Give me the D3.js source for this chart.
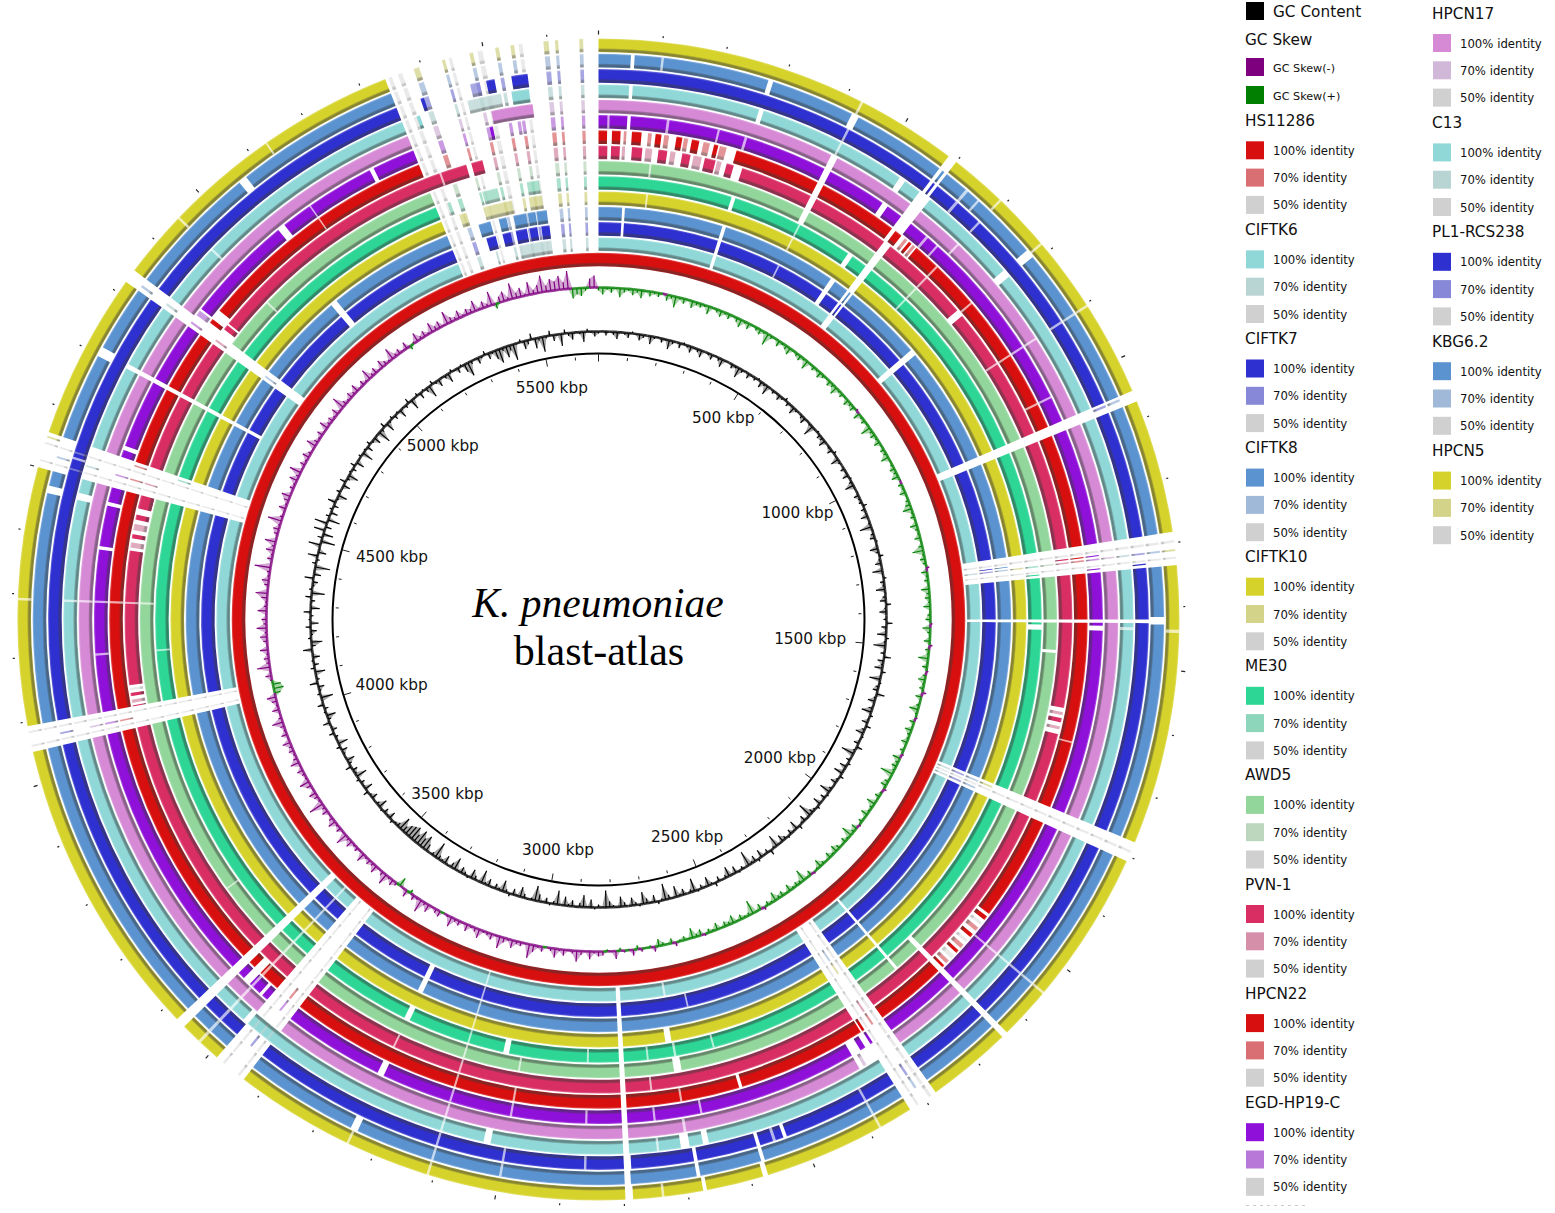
<!DOCTYPE html>
<meta charset="utf-8">
<script src="https://d3js.org/d3.v7.min.js"></script>
<style>
body { margin: 0; background: #fff; }
text { font-family: "DejaVu Sans"; fill: #111; }
</style>
<svg id="atlas" width="1555" height="1213"></svg>

<script>
const genomeLength = 5680
const kbpTicks = d3.range(500, 5501, 500)

// outermost ring first, reference genome (HS11286) last
const ringNames = ["HPCN5","KBG6.2","PL1-RCS238","C13","HPCN17","EGD-HP19-C","HPCN22","PVN-1","AWD5","ME30","CIFTK10","CIFTK8","CIFTK7","CIFTK6","HS11286"]
const ringColors = ["#d6d22c","#5a93d0","#2f30d0","#90d8d8","#d68ad6","#8f10d8","#d80f0f","#d82e63","#93d69b","#2dd695","#d6d22c","#5a93d0","#2f30d0","#90d8d8","#d80f0f"]
const ringColors70 = ["#d3d38a","#a0b9d9","#8888d8","#b8d5d3","#d2b8d8","#b878d8","#da6f73","#d58fa8","#bdd7bf","#8ed6bb","#d3d38a","#a0b9d9","#8888d8","#b8d5d3","#da6f73"]
const grey50 = "#d0d0d0"

const legendLeft = ["HS11286","CIFTK6","CIFTK7","CIFTK8","CIFTK10","ME30","AWD5","PVN-1","HPCN22","EGD-HP19-C"]
const legendRight = ["HPCN17","C13","PL1-RCS238","KBG6.2","HPCN5"]
const identityLabels = ["100% identity","70% identity","50% identity"]

const all = d3.range(14)

// regions with no BLAST hit: [from kbp, to kbp, rings]
const gaps = [
  [5340,5680,[0,1,2,3,4,5,6,8,9,10,11,12,13]],
  [5456,5680,[7]],[5370,5374,[7]],[5424,5434,[7]],
  [16,259,[6]],[17,24,[7]],[41,279,[7]],
  [52,58,[1,3,5,11,12]],[101,105,[1,8,10]],
  [16,20,[5]],[123,128,[5]],[216,220,[5]],[266,271,[5]],
  [276,284,[1,3,9,11,12,13]],
  [424,428,[0,2,3,9,10,12]],[420,432,[1,4,5,6,7,8]],
  [541,552,[3,5,9,11,12]],
  [585,600,all],[582,604,[3,4,5]],[582,640,[6]],
  [639,644,[1,2,5]],[664,668,[1,5]],[689,693,[0,2,4,6,7,8,9]],
  [777,791,[1,3,7,11,12,13]],[782,786,[0,6]],
  [902,906,[0,1,2,4,5,6,7]],[1005,1009,[5,6]],
  [1054,1072,all],
  [1283,1335,all],
  [1420,1426,[2,3,4,5,6,7,8,9,10,11,12,13]],[1416,1428,[1]],[1436,1441,[0]],
  [1430,1441,[9]],[1431,1440,[5]],[1433,1438,[3]],[1480,1486,[8]],
  [1590,1641,[7]],[1648,1651,[6]],
  [1776,1808,all],
  [2004,2130,[6]],
  [2049,2053,[0,1,2,3,4,5]],
  [2135,2145,[0,1,2,3,4,5,6,7,8]],
  [2198,2204,[8,9,10,11,12,13]],
  [2280,2328,all],[2328,2364,[4,5]],
  [2380,2384,[0,1,2]],
  [2524,2530,[2]],[2543,2548,[2]],[2570,2576,[1,2,6]],[2572,2580,[0]],[2600,2604,[9]],
  [2633,2637,[12]],[2652,2662,[3]],[2652,2656,[5]],
  [2670,2676,[0]],[2676,2682,[1,2]],[2685,2700,[3]],[2686,2691,[4]],[2684,2688,[6]],
  [2675,2690,[8]],[2680,2685,[9,13]],[2685,2698,[10]],
  [2737,2741,[0,3,5,7,9]],
  [2788,2798,all],[2786,2798,[0,2]],
  [2860,2864,[2,5,9]],[2996,3000,[1,2,5,6,8]],[3024,3036,[3,9]],
  [3108,3112,all],
  [3238,3250,[1,5,9,11,12]],[3242,3246,[0,7]],
  [3434,3488,[0,1,2,4,5,6,7,8,9,10,11,12,13]],[3486,3496,[3]],
  [3522,3527,all],
  [3500,3506,[5]],[3530,3545,[5,6]],
  [3558,3574,all],
  [3692,3695,[8]],
  [4052,4093,all],
  [4095,4134,[7]],
  [4195,4199,[5,9]],[4290,4294,[0,3,4,5,6,7,8]],
  [4386,4392,[5]],[4392,4474,[7]],
  [4464,4476,[1,3]],[4466,4473,[5]],
  [4500,4557,[0,1,3,4,5,6,7,8,9,10,11,12,13]],[4528,4532,[2]],
  [4570,4578,[5]],
  [4702,4710,[3,4,5,6,7,8,9,10,11,12]],[4698,4714,[1]],
  [4821,4843,all],[4843,4878,[6]],[4843,4870,[7]],[4843,4860,[5]],
  [4948,4952,[0,3,8]],
  [5043,5058,[11,12]],[5058,5072,[1,5]],
  [5128,5131,[5,6,0]],[5254,5262,[5]]
]

// weak or short hits left inside those regions: [from, to, rings, identity]
const fragments = [
  // top gap, stripes seen in most strains
  [5650,5656,all,70],[5612,5617,all,70],[5594,5602,all,70],
  [5542,5548,all,70],[5555,5561,all,50],[5518,5524,all,70],
  [5477,5483,all,70],[5490,5498,all,50],
  [5433,5438,[0,1,2,3,4,5,6,8,9,10,11,12,13],70],[5444,5449,[0,1,2,3,4,5,6,8,9,10,11,12,13],50],
  [5387,5396,[0,1,2,3,4,5,6,8,9,10,11,12,13],70],
  [5361,5368,[0,1,2,3,4,5,6,8,9,10,11,12,13],50],[5345,5351,[0,1,2,3,4,5,6,8,9,10,11,12,13],50],
  // top gap, stronger blocks
  [5536,5563,[2],100],[5494,5508,[2],100],[5467,5483,[2],70],[5382,5388,[2],100],
  [5532,5562,[3],100],[5456,5514,[3],70],[5366,5372,[3],100],
  [5492,5565,[4],100],[5483,5489,[5],100],[5534,5540,[5],70],
  [5533,5558,[9],70],[5440,5472,[9],70],[5365,5372,[9],70],
  [5532,5560,[10],70],[5438,5495,[10],70],[5380,5392,[10],70],
  [5413,5440,[11],100],[5459,5476,[11],100],[5492,5520,[11],100],[5524,5541,[11],100],[5544,5566,[11],100],
  [5421,5443,[12],100],[5459,5478,[12],100],[5490,5516,[12],100],[5522,5540,[12],100],[5549,5568,[12],100],
  [5491,5568,[13],70],
  // HPCN22 and PVN-1 just after the origin
  [25,41,[6],100],[47,52,[6],70],[62,80,[6],100],[92,99,[6],70],[106,117,[6],100],[122,131,[6],70],
  [145,156,[6],100],[159,167,[6],70],[174,188,[6],100],[196,208,[6],70],[216,224,[6],100],[227,240,[6],70],
  [45,51,[7],70],[64,84,[7],100],[90,103,[7],70],[115,132,[7],100],[138,148,[7],70],
  [161,177,[7],100],[183,199,[7],70],[205,226,[7],100],[229,238,[7],70],[248,262,[7],100],
  // other stripes
  [590,604,[6],100],[612,618,[6],70],[622,628,[6],100],[631,637,[6],70],[591,595,[1,2,11,12],100],
  [1058,1062,[1,2],70],
  [1296,1300,all,50],[1310,1313,all,70],[1322,1325,all,50],[1304,1306,[5,6,7,11,12],100],[1328,1330,[2,5,9],100],
  [1598,1604,[7],70],[1610,1618,[7],100],[1626,1632,[7],70],
  [1782,1786,[10,11,12,13],70],[1790,1794,all,50],[1798,1802,[11,12,13],70],
  [2010,2018,[6],100],[2024,2030,[6],50],[2036,2044,[6],70],[2052,2059,[6],100],[2066,2072,[6],50],
  [2078,2086,[6],70],[2092,2098,[6],100],[2104,2112,[6],50],[2118,2125,[6],70],
  [2288,2293,all,50],[2300,2304,[1,2,6,7,10,11],70],[2312,2316,all,50],[2320,2325,[5,6],100],
  [2336,2346,[5],100],[2350,2356,[4],70],
  [3442,3446,all,50],[3456,3460,[2,3,5,6],70],[3472,3476,all,50],
  [4060,4063,all,50],[4070,4073,[2,4,5,6],70],[4082,4085,all,50],
  [4100,4106,[7],70],[4113,4119,[7],100],[4124,4129,[7],50],
  [4398,4408,[7],70],[4416,4424,[7],100],[4432,4444,[7],70],[4452,4462,[7],100],
  [4476,4498,[7],100],
  [4510,4513,all,50],[4522,4525,[1,3,5,6,7],70],[4538,4541,all,50],[4548,4551,[0,6,9],70],
  [4828,4832,[1,3,5,7,11],70],[4846,4856,[5],70],[4850,4858,[6],100],[4856,4866,[7],100]
]

// GC content, deviation from the mean, one value per 0.75 degree
const gcContent = [
  -2,1,-4,0,-3,-7,1,-2,-5,2,-1,-6,-3,0,-8,-2,1,-4,-1,-9,-3,0,-5,2,-2,-6,-1,-3,-7,0,
  -2,-5,1,-3,-8,-1,0,-4,-2,-10,-3,1,-5,-1,-3,2,-6,-2,-9,0,-3,-1,-5,-2,3,-4,-1,-7,-2,0,
  -3,-6,1,-2,-11,-1,2,-4,-3,-7,0,-2,-5,3,-1,-8,-2,0,-4,-1,-6,2,-3,-9,-1,1,-5,-2,-3,4,
  -4,-1,-7,0,-2,-12,1,-3,-5,2,-1,-8,-3,4,-2,-6,0,-10,-1,3,-4,-2,-9,1,-3,-6,5,-2,-7,0,
  -3,6,-5,-1,-9,3,-2,-12,1,-4,7,-6,-2,-8,4,-1,-11,2,-3,-5,8,-2,-7,1,-4,-10,3,-1,-6,5,
  -3,-8,2,-1,-5,6,-2,-13,0,-4,3,-7,-1,-9,4,-2,-6,1,-3,-11,2,-5,0,-8,3,-2,-4,-14,1,-6,
  -2,4,-9,-1,-5,2,-3,-7,1,-12,-2,5,-4,-1,-8,3,-6,-2,-15,0,-3,2,-7,-1,-10,-3,1,-5,4,-2,
  -9,-1,-4,2,-13,-3,0,-6,-2,-11,1,-4,-16,-2,3,-7,-1,-5,-12,2,-3,-8,0,-4,-10,1,-2,-6,-17,-1,
  -3,2,-8,-1,-12,-4,1,-6,-2,-9,0,-14,-3,2,-5,-1,-7,-15,-2,1,-4,-10,-1,-6,3,-3,-11,-2,-5,1,
  -7,-2,-13,0,-4,-9,2,-3,-6,-1,-12,-5,1,-8,-2,-4,-16,-3,0,-7,-14,-9,-15,-8,-14,-12,-10,-6,-13,-4,
  -2,3,-7,-1,-5,2,-9,-3,1,-6,-2,5,-8,-1,-4,3,-11,-2,-5,6,-3,-8,1,-2,-6,4,-10,-1,-3,5,
  -5,-1,7,-3,-9,2,-4,6,-1,-12,3,-2,-6,8,-3,-1,-10,4,-5,2,-7,-1,9,-4,-11,3,-2,-6,5,-8,
  2,-3,7,-9,1,-4,6,-13,3,-2,-5,9,-7,1,-15,4,-3,10,-8,-1,12,-14,5,-10,11,-6,13,-12,4,-7,
  3,-5,8,-2,-9,4,-1,-7,6,-3,-10,2,-4,5,-8,-1,3,-11,2,-6,4,-2,-7,1,-13,-3,5,-9,-2,3,
  -4,2,-8,1,-3,5,-10,-1,3,-6,2,-4,-12,4,-2,-7,1,-3,-9,3,-1,-5,2,-8,-14,-3,1,-6,-2,4,
  -6,-2,-9,-14,-3,-11,-5,-16,-1,3,-8,-4,6,-10,-3,-15,-2,5,-6,-1,-12,4,-3,-7,1,-2,-10,3,-1,-5
]

// GC skew, positive drawn green towards the centre, negative purple outwards
const gcSkew = [
  3,7,2,5,1,9,4,2,6,3,8,1,5,2,4,-1,6,3,11,2,5,1,7,3,4,2,8,1,3,6,
  2,5,1,4,8,2,6,1,3,5,2,12,3,1,6,2,4,7,1,3,5,2,9,1,4,2,6,3,1,5,
  3,8,2,4,1,6,3,5,-2,7,2,4,1,10,3,5,2,6,1,4,3,8,1,2,5,3,7,-1,4,2,
  6,1,3,5,9,2,4,1,7,3,2,6,1,4,11,2,5,3,-3,6,2,4,1,8,3,5,2,7,1,3,
  5,-2,8,3,1,6,-3,4,2,10,1,5,-2,3,7,2,4,-4,6,1,3,9,2,-2,5,1,7,3,2,6,
  1,4,-2,8,3,5,2,13,1,4,6,-3,2,5,1,9,3,2,7,1,4,-2,6,3,11,2,5,1,4,7,
  2,6,1,3,8,2,-2,5,1,12,3,4,2,7,1,5,3,9,2,4,-3,6,1,14,3,2,5,1,8,3,
  5,1,7,2,4,-2,6,3,10,1,4,2,-4,5,1,3,7,-5,2,1,-3,4,-6,1,-2,3,-8,-1,2,-4,
  -5,-2,-8,-1,-4,-11,-3,-1,-6,-2,-9,-3,1,-5,-2,-7,-14,-1,-4,-3,-8,-2,-5,-12,-1,-6,-3,-2,-9,-4,
  -2,-7,-1,-5,-3,-10,-2,1,-6,-4,-1,-8,-3,-13,-2,-5,4,-7,-1,9,-3,-6,-2,-11,-4,-1,-8,-3,-5,-2,
  -9,-1,-4,-2,-7,-3,-12,-1,-5,-2,-8,-4,-1,-6,-3,-15,-2,-4,-7,-1,-5,-10,-2,-3,-6,-1,-9,-4,-2,-5,
  -3,-8,-1,-6,-2,-4,-11,-3,-1,-7,-2,-5,-9,6,10,8,-2,-6,-1,-13,-3,-5,-2,-8,-1,-4,-7,-2,-10,-3,
  -5,-1,-9,-3,-2,-6,-12,-1,-4,-7,-2,-3,-16,-1,-5,-2,-8,-3,-11,-1,-4,-6,-2,-14,-3,-1,-7,-2,-5,-9,
  -1,-4,-2,-8,-3,-12,-1,-5,-2,-7,-3,-1,-10,-4,-2,-6,-1,-9,-3,-5,-2,-7,-1,-13,-4,-2,-6,-3,-8,-1,
  -5,-2,-11,-3,-6,-1,-8,-4,-2,-12,-3,-5,-1,-7,4,-2,-9,-3,-6,-2,-10,-4,-7,-1,-13,-5,-3,-8,-2,-6,
  -4,-11,-2,-7,-3,-14,5,-6,-10,-3,-16,-5,-9,-2,-13,-4,-8,-17,-6,-12,-9,-14,-7,-18,10,6,8,3,-9,-12
]

const svg = d3.select("#atlas")
const defs = svg.append("defs")

const cx = 598.5, cy = 619.5
const outerRadius = 581, ringStep = 15.3, ringWidth = 13.6
const ringOuter = i => outerRadius - i * ringStep
const ringInner = i => ringOuter(i) - ringWidth

const angle = d3.scaleLinear().domain([0, genomeLength]).range([0, 2 * Math.PI])

const chart = svg.append("g").attr("transform", `translate(${cx},${cy})`)

// ring shading: dark rim on the inner side, pale rim on the outer side
function addGradient(id, color, i) {
  const grad = defs.append("radialGradient")
    .attr("id", id).attr("gradientUnits", "userSpaceOnUse")
    .attr("cx", 0).attr("cy", 0).attr("r", ringOuter(i))
  const off = f => (ringInner(i) + f * ringWidth) / ringOuter(i)
  const dark = t => d3.interpolateRgb(color, "#3a3a3a")(t)
  const stops = [[0, dark(0.35)], [0.1, dark(0.55)], [0.2, dark(0.42)], [0.3, color], [0.88, color],
                 [1, d3.interpolateRgb(color, "#ffffff")(0.3)]]
  stops.forEach(s => grad.append("stop").attr("offset", off(s[0])).attr("stop-color", s[1]))
}

ringColors.forEach((c, i) => {
  addGradient("ring" + i + "_100", c, i)
  addGradient("ring" + i + "_70", ringColors70[i], i)
  addGradient("ring" + i + "_50", grey50, i)
})

// gaps of a few kbp show as a pale hairline, not as a clean cut
const isHair = g => g[1] - g[0] <= 5
const fragOpacity = {100: 1, 70: 0.75, 50: 0.45}

// what is left of a ring once its gaps are taken out
function coveredParts(i) {
  const own = gaps.filter(g => g[2].includes(i) && !isHair(g)).map(g => [g[0], g[1]]).sort((a, b) => a[0] - b[0])
  const parts = []
  let pos = 0
  own.forEach(g => {
    if (g[0] > pos) parts.push([pos, g[0]])
    pos = Math.max(pos, g[1])
  })
  if (pos < genomeLength) parts.push([pos, genomeLength])
  return parts
}

function arcFor(i) {
  return d3.arc()
    .innerRadius(ringInner(i)).outerRadius(ringOuter(i))
    .startAngle(d => angle(d[0])).endAngle(d => angle(d[1]))
}

ringNames.forEach((name, i) => {
  const g = chart.append("g").attr("class", "ring")
  g.selectAll("path.part")
    .data(coveredParts(i))
    .join("path")
      .attr("class", "part")
      .attr("d", arcFor(i))
      .attr("fill", `url(#ring${i}_100)`)
  g.selectAll("path.hair")
    .data(gaps.filter(d => d[2].includes(i) && isHair(d)))
    .join("path")
      .attr("class", "hair")
      .attr("d", arcFor(i))
      .attr("fill", "#fff")
      .attr("fill-opacity", 0.65)
  g.selectAll("path.frag")
    .data(fragments.filter(f => f[2].includes(i)))
    .join("path")
      .attr("class", "frag")
      .attr("d", arcFor(i))
      .attr("fill", d => `url(#ring${i}_${d[3]})`)
      .attr("fill-opacity", d => fragOpacity[d[3]])
})

// spikes from a band at the track's base line, with the area under them shaded
const binKbp = genomeLength / gcSkew.length

function drawTrack(values, base, r, colorOf, keep) {
  const bins = values.map((v, i) => ({
    pos: i * binKbp, v: v, next: values[(i + 1) % values.length]
  }))
  const g = chart.append("g")
  const shade = keep.map(k => {
    const pts = bins.map(d => ({pos: d.pos, v: k(d.v) ? d.v : 0}))
    pts.push({pos: genomeLength, v: k(values[0]) ? values[0] : 0})
    return {color: colorOf(k === keep[0] ? (keep.length > 1 ? -1 : 0) : 1), pts: pts}
  })
  g.selectAll("path.shade").data(shade).join("path")
    .attr("class", "shade")
    .attr("d", s => d3.areaRadial().angle(d => angle(d.pos)).innerRadius(base).outerRadius(d => r(d.v))(s.pts))
    .attr("fill", s => s.color)
    .attr("fill-opacity", 0.35)
  g.selectAll("path.band").data(bins).join("path")
    .attr("class", "band")
    .attr("d", d3.arc().innerRadius(base - 1.3).outerRadius(base + 1.3)
      .startAngle(d => angle(d.pos)).endAngle(d => angle(d.pos + binKbp)))
    .attr("fill", d => colorOf(d.v))
    .attr("fill-opacity", 0.8)
  g.selectAll("line.stem").data(bins).join("line")
    .attr("class", "stem")
    .attr("x1", d => d3.pointRadial(angle(d.pos), base)[0])
    .attr("y1", d => d3.pointRadial(angle(d.pos), base)[1])
    .attr("x2", d => d3.pointRadial(angle(d.pos), r(d.v))[0])
    .attr("y2", d => d3.pointRadial(angle(d.pos), r(d.v))[1])
    .attr("stroke", d => colorOf(d.v))
    .attr("stroke-width", 1.2)
}

// GC skew
const skewBase = 332
const skewR = d3.scaleLinear().domain([-20, 20]).range([skewBase + 20, skewBase - 20])
drawTrack(gcSkew, skewBase, skewR, v => v < 0 ? "#7f007f" : "#007f00", [v => v < 0, v => v > 0])

// GC content
const gcBase = 288
const gcR = d3.scaleLinear().domain([-20, 20]).range([gcBase - 20, gcBase + 20])
drawTrack(gcContent, gcBase, gcR, v => "#000", [v => v !== 0])

// backbone circle and ticks
chart.append("circle").attr("r", 266).attr("fill", "none").attr("stroke", "#000").attr("stroke-width", 2)

const allTicks = d3.range(0, genomeLength, 100)
function radial(sel, r0, r1) {
  sel.attr("x1", d => d3.pointRadial(angle(d), r0(d))[0])
     .attr("y1", d => d3.pointRadial(angle(d), r0(d))[1])
     .attr("x2", d => d3.pointRadial(angle(d), r1(d))[0])
     .attr("y2", d => d3.pointRadial(angle(d), r1(d))[1])
}
chart.append("g").selectAll("line").data(allTicks).join("line")
  .call(radial, d => d % 500 ? 260 : 258, d => d % 500 ? 263 : 266)
  .attr("stroke", "#222").attr("stroke-width", 1)
chart.append("g").selectAll("line").data(allTicks).join("line")
  .call(radial, d => 585, d => d % 500 ? 587 : 589)
  .attr("stroke", "#222").attr("stroke-width", 1.2)

// kbp labels sit inside the circle, a little further in on the sides
const labelNudge = {1000:[-2,-6],1500:[-2,1],2000:[-3,1],2500:[2,-2],3000:[1,-2],3500:[5,0],4000:[3,3],4500:[4,-5],5000:[4,-3],500:[1,-1],5500:[0,0]}
chart.append("g").selectAll("text").data(kbpTicks).join("text")
  .attr("x", d => d3.pointRadial(angle(d), 236 - 22 * Math.pow(Math.sin(angle(d)), 6))[0] + labelNudge[d][0])
  .attr("y", d => d3.pointRadial(angle(d), 236 - 22 * Math.pow(Math.sin(angle(d)), 6))[1] + labelNudge[d][1])
  .attr("text-anchor", "middle")
  .attr("dominant-baseline", "central")
  .attr("font-size", 15.3)
  .text(d => d + " kbp")

svg.append("text").attr("x", 598).attr("y", 617).attr("text-anchor", "middle")
  .style("font-family", "Liberation Serif").style("font-style", "italic").style("fill", "#000")
  .attr("font-size", 41.5).text("K. pneumoniae")
svg.append("text").attr("x", 599).attr("y", 665).attr("text-anchor", "middle")
  .style("font-family", "Liberation Serif").style("fill", "#000")
  .attr("font-size", 42).text("blast-atlas")

// legend
const legend = svg.append("g")
const swatchSize = 18

function swatch(x, y, color) {
  legend.append("rect").attr("x", x).attr("y", y - swatchSize / 2)
    .attr("width", swatchSize).attr("height", swatchSize).attr("fill", color)
}
function label(x, y, size, s) {
  return legend.append("text").attr("x", x).attr("y", y).attr("dominant-baseline", "central")
    .attr("font-size", size).text(s)
}

swatch(1246, 11, "#000"); label(1273, 11.5, 15.3, "GC Content")
label(1245, 39.5, 15.3, "GC Skew")
swatch(1246, 67, "#7f007f"); label(1273, 68, 11.2, "GC Skew(-)")
swatch(1246, 95, "#007f00"); label(1273, 96, 11.2, "GC Skew(+)")

function strainBlock(name, x, y) {
  const i = ringNames.indexOf(name)
  label(x - 1, y, 15.3, name)
  const cols = [ringColors[i], ringColors70[i], grey50]
  identityLabels.forEach((s, k) => {
    swatch(x, y + 29.5 + k * 27.3, cols[k])
    label(x + 27, y + 30 + k * 27.3, 11.7, s)
  })
}
legendLeft.forEach((n, k) => strainBlock(n, 1246, 120.8 + k * 109.1))
legendRight.forEach((n, k) => strainBlock(n, 1433, 13.5 + k * 109.4))

// top edge of the next legend entry, which the image cuts off
legend.append("line").attr("x1", 1246).attr("x2", 1308).attr("y1", 1205.5).attr("y2", 1205.5)
  .attr("stroke", "#ccc").attr("stroke-dasharray", "3 4")
</script>
